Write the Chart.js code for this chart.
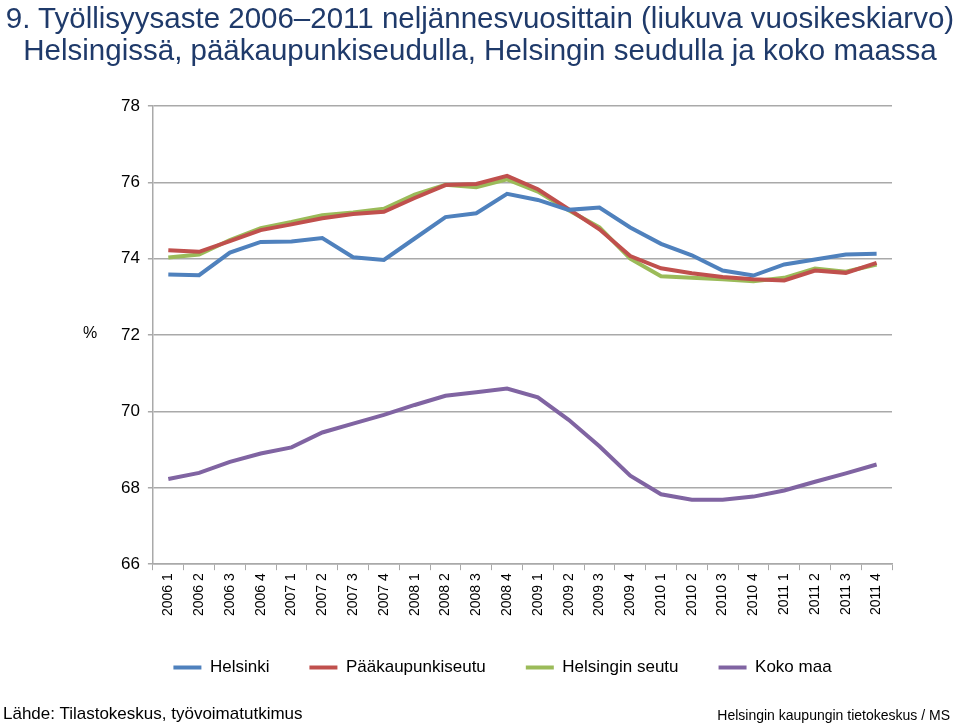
<!DOCTYPE html>
<html>
<head>
<meta charset="utf-8">
<script src="https://cdn.jsdelivr.net/npm/chart.js@4"></script>
<style>
  html, body { margin: 0; padding: 0; background: #fff; }
  #wrap { position: relative; width: 960px; height: 725px; font-family: "Liberation Sans", Arial, sans-serif; }
  #title { position: absolute; left: 0; top: 2px; width: 960px; text-align: center; font-size: 29.5px; line-height: 32px; color: #1f3a6a; white-space: nowrap; }
  #pct { position: absolute; left: 83px; top: 324px; font-size: 16px; color: #000; }
  #source { position: absolute; left: 3px; top: 704px; font-size: 17px; color: #000; }
  #credit { position: absolute; right: 10px; top: 707px; font-size: 14px; color: #000; }
</style>
</head>
<body>
<div id="wrap">
  <canvas id="chart" width="960" height="725"></canvas>
  <div id="title"></div>
  <span id="pct">%</span>
  <span id="source">Lähde: Tilastokeskus, työvoimatutkimus</span>
  <span id="credit">Helsingin kaupungin tietokeskus / MS</span>
</div>
<script>
const quarters = [
  '2006 1', '2006 2', '2006 3', '2006 4',
  '2007 1', '2007 2', '2007 3', '2007 4',
  '2008 1', '2008 2', '2008 3', '2008 4',
  '2009 1', '2009 2', '2009 3', '2009 4',
  '2010 1', '2010 2', '2010 3', '2010 4',
  '2011 1', '2011 2', '2011 3', '2011 4'
];

const helsinki = [73.59, 73.57, 74.16, 74.44, 74.45, 74.54, 74.04, 73.97, 74.53, 75.09, 75.19, 75.70,
                  75.54, 75.28, 75.34, 74.82, 74.39, 74.09, 73.69, 73.56, 73.85, 73.98, 74.11, 74.13];
const paakaupunkiseutu = [74.22, 74.18, 74.46, 74.75, 74.90, 75.06, 75.17, 75.23, 75.59, 75.93, 75.96, 76.17,
                          75.82, 75.30, 74.77, 74.07, 73.75, 73.62, 73.52, 73.46, 73.43, 73.69, 73.63, 73.89];
const helsinginSeutu = [74.03, 74.11, 74.49, 74.80, 74.96, 75.14, 75.21, 75.31, 75.68, 75.94, 75.87, 76.08,
                        75.76, 75.27, 74.82, 74.00, 73.54, 73.50, 73.46, 73.41, 73.50, 73.74, 73.66, 73.85];
const kokoMaa = [68.23, 68.39, 68.68, 68.90, 69.06, 69.45, 69.68, 69.91, 70.17, 70.41, 70.50, 70.60,
                 70.37, 69.78, 69.09, 68.32, 67.83, 67.69, 67.69, 67.77, 67.93, 68.16, 68.38, 68.61];

const titleLines = [
  '9. Työllisyysaste 2006–2011 neljännesvuosittain (liukuva vuosikeskiarvo)',
  'Helsingissä, pääkaupunkiseudulla, Helsingin seudulla ja koko maassa'
];

const gridColor = '#a9a9a9';

// title as two lines of html text
const titleBox = document.getElementById('title');
titleLines.forEach(function (line) {
  const d = document.createElement('div');
  d.textContent = line;
  titleBox.appendChild(d);
});

function series(label, data, color) {
  return {
    label: label,
    data: data,
    borderColor: color,
    backgroundColor: color,
    borderWidth: 4,
    pointRadius: 0,
    tension: 0,
    fill: false
  };
}

new Chart(document.getElementById('chart'), {
  type: 'line',
  data: {
    labels: quarters,
    datasets: [
      series('Helsinki', helsinki, '#4f81bd'),
      series('Pääkaupunkiseutu', paakaupunkiseutu, '#c0504d'),
      series('Helsingin seutu', helsinginSeutu, '#9bbb59'),
      series('Koko maa', kokoMaa, '#8064a2')
    ]
  },
  options: {
    responsive: false,
    animation: false,
    layout: {
      padding: { left: 113, right: 68, top: 106, bottom: 39 }
    },
    plugins: {
      title: { display: false },
      legend: {
        position: 'bottom',
        labels: {
          color: '#000',
          font: { family: 'Liberation Sans', size: 17 },
          boxWidth: 28,
          boxHeight: 4,
          padding: 40,
          generateLabels: function (chart) {
            return Chart.defaults.plugins.legend.labels.generateLabels(chart).map(function (l) {
              l.lineWidth = 0;
              l.fillStyle = l.strokeStyle;
              return l;
            });
          }
        }
      },
      tooltip: { enabled: false }
    },
    scales: {
      x: {
        offset: true,
        grid: { display: true, drawOnChartArea: false, offset: true, color: gridColor, tickLength: 6 },
        border: { color: gridColor, width: 1.5 },
        ticks: {
          color: '#000',
          font: { family: 'Liberation Sans', size: 14 },
          minRotation: 90,
          maxRotation: 90,
          padding: 3,
          autoSkip: false
        }
      },
      y: {
        min: 66,
        max: 78,
        ticks: {
          stepSize: 2,
          color: '#000',
          font: { family: 'Liberation Sans', size: 17 },
          padding: 8
        },
        grid: { color: gridColor, lineWidth: 1.5, tickLength: 5 },
        border: { color: gridColor, width: 1.5 }
      }
    }
  }
});
</script>
</body>
</html>
